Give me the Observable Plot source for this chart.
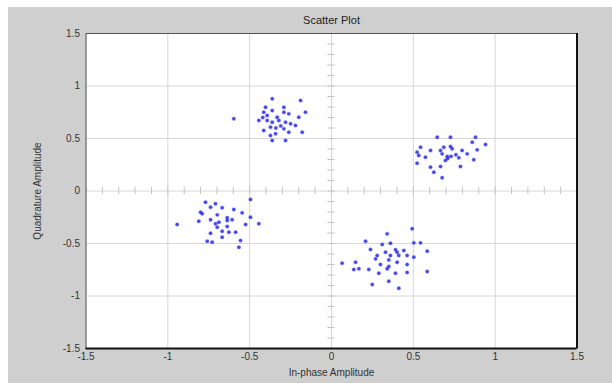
<!DOCTYPE html>
<html>
<head>
<meta charset="utf-8">
<script src="https://cdn.jsdelivr.net/npm/d3@7"></script>
<script src="https://cdn.jsdelivr.net/npm/@observablehq/plot@0.6"></script>
<style>
  html, body { margin: 0; padding: 0; background: #ffffff; }
  #panel { position: absolute; left: 8px; top: 7px; width: 604px; height: 376px; background: #cfcfcf; }
  #panel svg { background: transparent; display: block; }
</style>
</head>
<body>
<div id="panel"></div>
<script>
// Cluster 1 (upper-left)
const c1I = [-0.362,-0.189,-0.597,-0.403,-0.414,-0.362,-0.291,-0.291,-0.261,-0.200,-0.159,-0.444,-0.393,-0.362,-0.322,-0.281,-0.250,-0.220,-0.291,-0.261,-0.179,-0.373,-0.342,-0.362,-0.281,-0.393,-0.332,-0.373,-0.414,-0.310,-0.340,-0.420];
const c1Q = [0.878,0.862,0.688,0.798,0.750,0.767,0.798,0.750,0.735,0.703,0.750,0.671,0.671,0.655,0.671,0.655,0.640,0.624,0.592,0.560,0.560,0.529,0.545,0.481,0.481,0.719,0.703,0.608,0.576,0.620,0.600,0.700];
// Cluster 2 (upper-right)
const c2I = [0.646,0.727,0.880,0.860,0.941,0.544,0.605,0.523,0.666,0.686,0.727,0.737,0.798,0.890,0.533,0.574,0.676,0.707,0.696,0.778,0.869,0.523,0.605,0.666,0.788,0.625,0.676,0.829,0.710,0.730,0.760];
const c2Q = [0.512,0.512,0.512,0.465,0.443,0.417,0.386,0.370,0.386,0.417,0.424,0.402,0.386,0.392,0.338,0.322,0.354,0.329,0.290,0.316,0.297,0.265,0.227,0.233,0.233,0.179,0.126,0.354,0.310,0.330,0.345];
// Cluster 3 (lower-left)
const c3I = [-0.770,-0.709,-0.739,-0.668,-0.800,-0.790,-0.597,-0.546,-0.698,-0.495,-0.495,-0.811,-0.739,-0.688,-0.637,-0.607,-0.525,-0.444,-0.943,-0.698,-0.637,-0.668,-0.627,-0.586,-0.739,-0.668,-0.556,-0.759,-0.729,-0.566,-0.637,-0.709];
const c3Q = [-0.107,-0.122,-0.154,-0.160,-0.202,-0.217,-0.176,-0.208,-0.227,-0.081,-0.250,-0.288,-0.274,-0.297,-0.255,-0.274,-0.319,-0.312,-0.319,-0.345,-0.338,-0.383,-0.392,-0.392,-0.402,-0.440,-0.471,-0.478,-0.487,-0.535,-0.281,-0.312];
// Cluster 4 (lower-right)
const c4I = [0.493,0.340,0.208,0.310,0.360,0.503,0.544,0.238,0.391,0.401,0.442,0.330,0.279,0.360,0.411,0.462,0.585,0.269,0.350,0.401,0.462,0.065,0.147,0.350,0.299,0.228,0.136,0.167,0.289,0.391,0.462,0.585,0.350,0.249,0.411,0.340,0.503];
const c4Q = [-0.360,-0.408,-0.478,-0.510,-0.497,-0.494,-0.494,-0.557,-0.560,-0.583,-0.567,-0.583,-0.614,-0.614,-0.614,-0.614,-0.573,-0.646,-0.656,-0.678,-0.700,-0.687,-0.678,-0.719,-0.700,-0.748,-0.748,-0.741,-0.783,-0.783,-0.776,-0.767,-0.859,-0.890,-0.926,-0.741,-0.630];

const axisTicks = [-1.5, -1, -0.5, 0, 0.5, 1, 1.5];
const axisTickLabels = ["-1.5", "-1", "-0.5", "0", "0.5", "1", "1.5"];
const minorTicks = d3.ticks(-1.5, 1.5, 30);
const domainI = [-1.5, 1.5];
const domainQ = [-1.5, 1.5];

const points = [];
[[c1I, c1Q], [c2I, c2Q], [c3I, c3Q], [c4I, c4Q]].forEach(([I, Q]) => {
  I.forEach((v, k) => points.push({i: v, q: Q[k]}));
});

const font = "Liberation Sans, Arial, sans-serif";

const chart = Plot.plot({
  width: 604,
  height: 376,
  marginLeft: 77.5,
  marginRight: 35.5,
  marginTop: 26,
  marginBottom: 35,
  style: {fontFamily: font, fontSize: "10px", color: "#333", background: "transparent"},
  x: {domain: domainI, ticks: axisTicks, tickFormat: (d, k) => axisTickLabels[k], tickSize: 0, tickPadding: 4,
      label: "In-phase Amplitude", labelAnchor: "center", labelArrow: "none", labelOffset: 27},
  y: {domain: domainQ, ticks: axisTicks, tickFormat: (d, k) => axisTickLabels[k], tickSize: 0, tickPadding: 6,
      label: "Quadrature Amplitude", labelAnchor: "center", labelArrow: "none", labelOffset: 52},
  marks: [
    Plot.frame({fill: "white", stroke: null}),
    Plot.gridX(axisTicks.filter(d => d !== 0), {stroke: "#d6d6d6", strokeOpacity: 1, strokeWidth: 1}),
    Plot.gridY(axisTicks.filter(d => d !== 0), {stroke: "#d6d6d6", strokeOpacity: 1, strokeWidth: 1}),
    Plot.ruleX([0], {stroke: "#d6d6d6"}),
    Plot.ruleY([0], {stroke: "#d6d6d6"}),
    Plot.ruleX(minorTicks, {x: d => d, y1: -0.035, y2: 0.035, stroke: "#c4c4c4"}),
    Plot.ruleY(minorTicks, {y: d => d, x1: -0.022, x2: 0.022, stroke: "#c4c4c4"}),
    Plot.dot(points, {x: "i", y: "q", r: 1.7, fill: "#1a1ae0", fillOpacity: 0.8, stroke: "#4a4aff", strokeOpacity: 0.3, strokeWidth: 1.2}),
    Plot.frame({stroke: "#555", strokeWidth: 1}),
    Plot.ruleX([domainI[1]], {stroke: "#111", strokeWidth: 2}),
    Plot.ruleY([domainQ[0]], {stroke: "#111", strokeWidth: 2}),
    Plot.text(["Scatter Plot"], {frameAnchor: "top", dy: -17, fontSize: 11, fill: "#222"})
  ]
});
document.getElementById("panel").appendChild(chart);
</script>
</body>
</html>
